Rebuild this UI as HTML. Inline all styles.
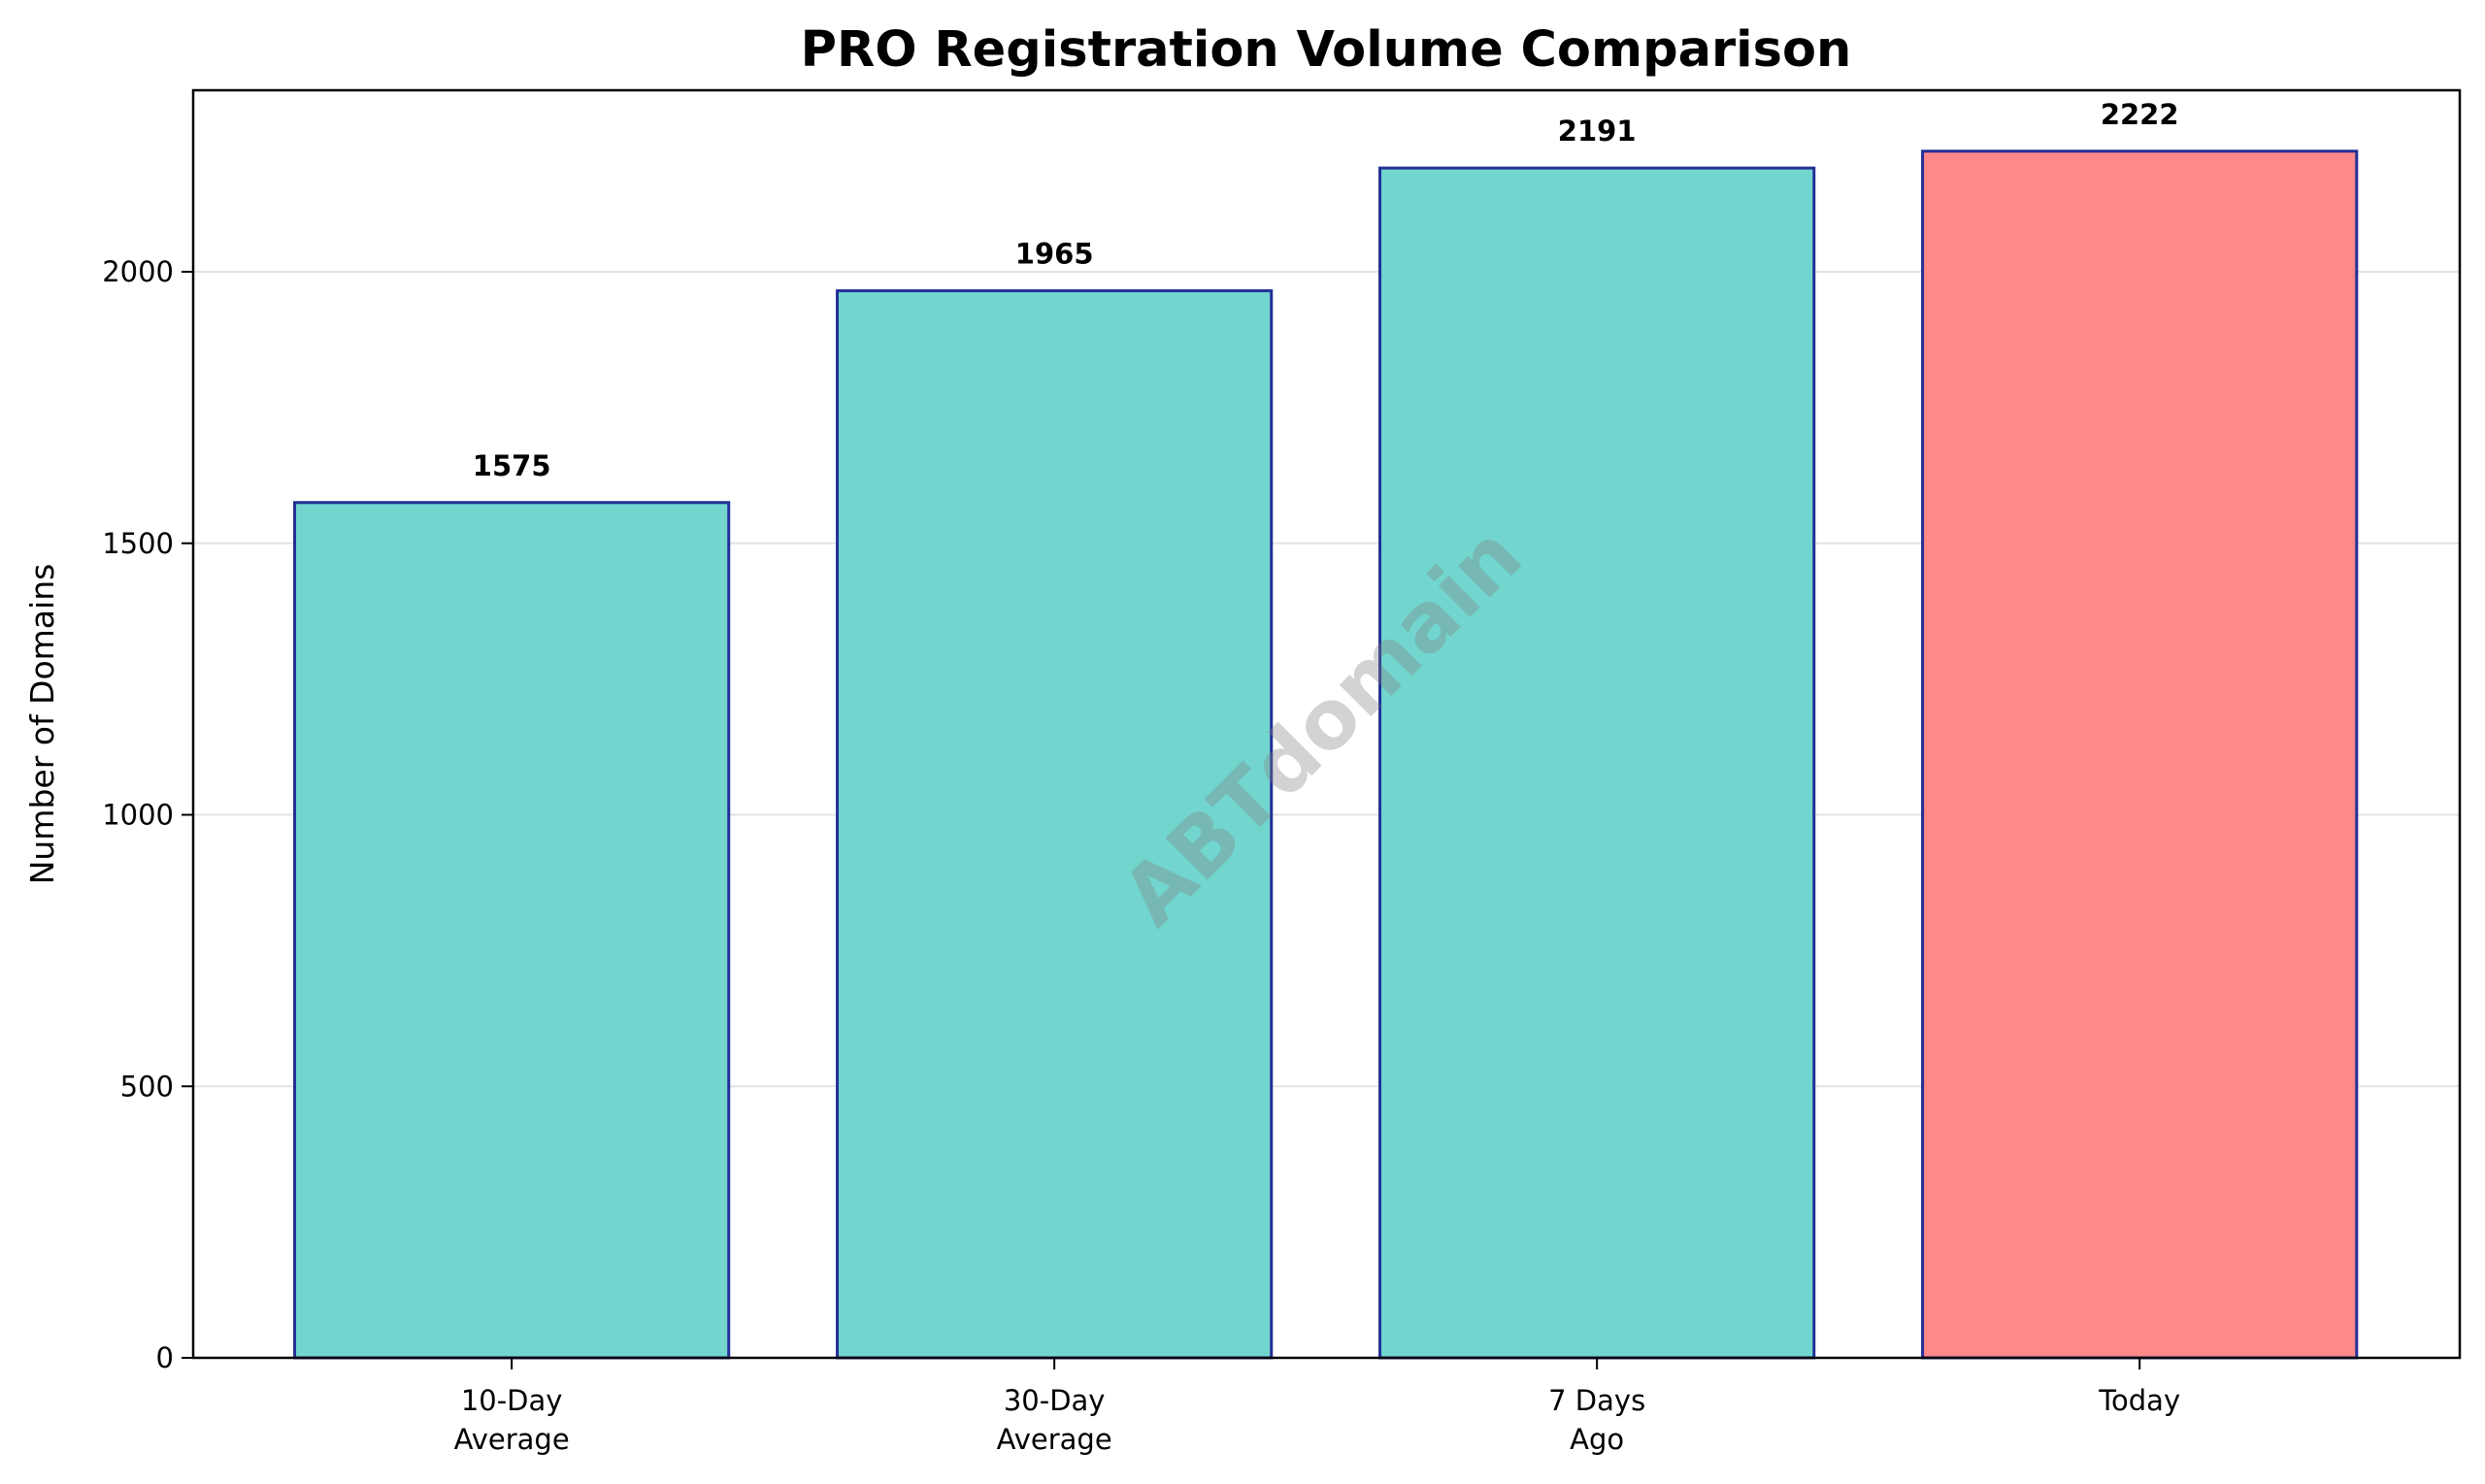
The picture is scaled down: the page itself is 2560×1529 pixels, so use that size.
<!DOCTYPE html>
<html><head><meta charset="utf-8"><style>
html,body{margin:0;padding:0;background:#fff;}
svg{display:block;font-family:"DejaVu Sans","Liberation Sans",sans-serif;}
</style></head><body>
<svg id="chart" width="2560" height="1529" viewBox="0 0 2560 1529" xmlns="http://www.w3.org/2000/svg">
<text x="1366" y="68" text-anchor="middle" font-size="51" font-weight="bold" fill="#000">PRO Registration Volume Comparison</text>
<g id="grid"></g>
<g id="bars"></g>
<g id="labels"></g>
<text x="0" y="0" transform="translate(1366,752) rotate(-45)" text-anchor="middle" dominant-baseline="middle" font-size="84" font-weight="bold" fill="#808080" fill-opacity="0.35">ABTdomain</text>
<rect x="199" y="93" width="2335" height="1306" fill="none" stroke="#000" stroke-width="2.5"/>
<g id="yaxis"></g>
<g id="xaxis"></g>
<text x="0" y="0" transform="translate(55,746) rotate(-90)" text-anchor="middle" font-size="33" fill="#000">Number of Domains</text>
</svg>
<script>
const categories = [["10-Day","Average"],["30-Day","Average"],["7 Days","Ago"],["Today"]];
const values = [1575, 1965, 2191, 2222];
const barColors = ["#72d6cf","#72d6cf","#72d6cf","#ff8888"];
const yTicks = [0, 500, 1000, 1500, 2000];
const NS = "http://www.w3.org/2000/svg";
const X0 = 199, X1 = 2534, Y0 = 1399;
const xMin = -0.587, xMax = 3.59;
const yScale = 0.5595;
function xs(v){ return X0 + (v - xMin) / (xMax - xMin) * (X1 - X0); }
function ys(v){ return Y0 - v * yScale; }
function mk(tag, attrs, parent){ const e = document.createElementNS(NS, tag); for (const k in attrs) e.setAttribute(k, attrs[k]); parent.appendChild(e); return e; }
const grid = document.getElementById('grid'), bars = document.getElementById('bars'), labels = document.getElementById('labels'), yaxis = document.getElementById('yaxis'), xaxis = document.getElementById('xaxis');
yTicks.forEach(t => {
  const y = ys(t);
  if (t > 0) {
    const g = mk('line', {x1: X0, x2: X1, y1: y, y2: y, stroke: '#e3e3e3', 'stroke-width': 2}, grid);
    
    
  }
  const tk = mk('line', {x1: X0 - 12, x2: X0, y1: y, y2: y, stroke: '#000', 'stroke-width': 2}, yaxis);
  
  
  const tl = mk('text', {x: X0 - 20, y: y + 10, 'text-anchor': 'end', 'font-size': 29, fill: '#000'}, yaxis);
  tl.textContent = t;
  
  
});
values.forEach((v, i) => {
  const l = xs(i - 0.4), r = xs(i + 0.4), top = ys(v);
  const b = mk('rect', {x: l, y: top, width: r - l, height: Y0 - top, fill: barColors[i], stroke: '#232f96', 'stroke-width': 3}, bars);
  
  
  const vl = mk('text', {x: xs(i), y: top - 28, 'text-anchor': 'middle', 'font-size': 29, 'font-weight': 'bold', fill: '#000'}, labels);
  vl.textContent = v;
  
  
  const tk = mk('line', {x1: xs(i), x2: xs(i), y1: Y0, y2: Y0 + 12, stroke: '#000', 'stroke-width': 2}, xaxis);
  
  
  const xl = mk('text', {x: xs(i), y: 1453, 'text-anchor': 'middle', 'font-size': 29, fill: '#000'}, xaxis);
  
  
  categories[i].forEach((line, j) => {
    const ts = mk('tspan', {x: xs(i), dy: j === 0 ? 0 : 40}, xl);
    ts.textContent = line;
  });
});
</script>
</body></html>
